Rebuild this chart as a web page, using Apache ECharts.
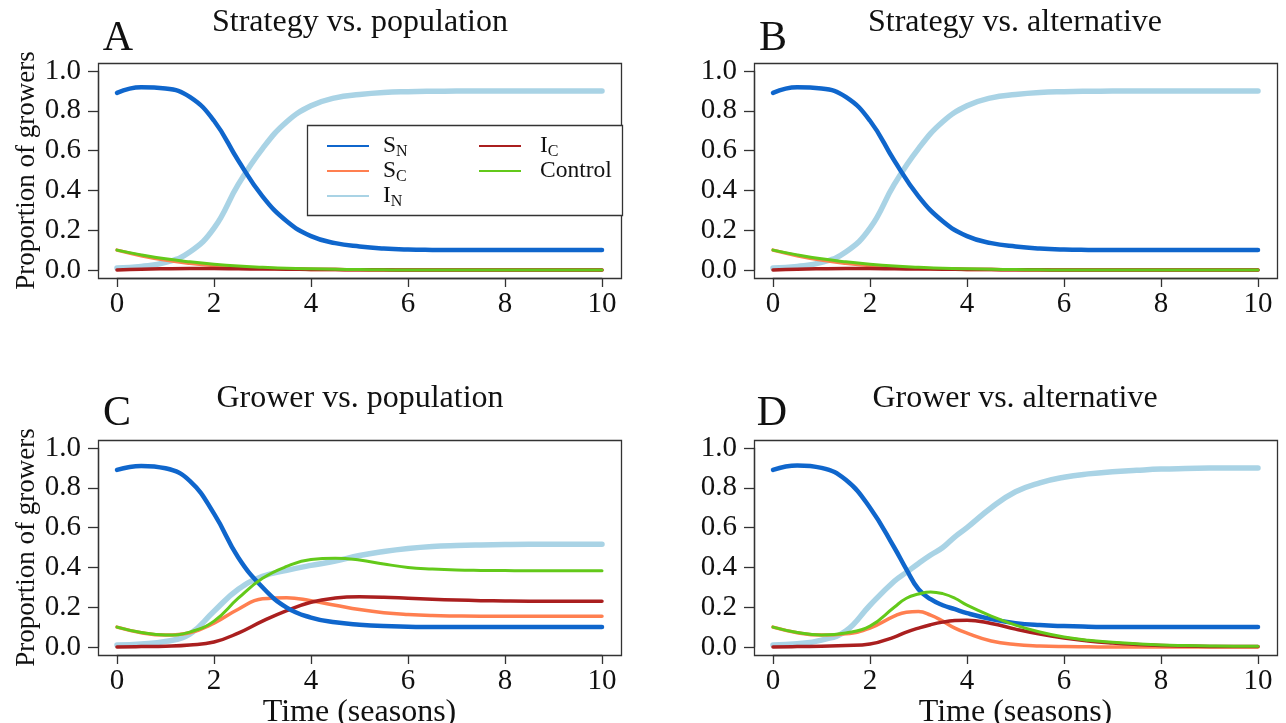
<!DOCTYPE html>
<html>
<head>
<meta charset="utf-8">
<script src="https://cdn.jsdelivr.net/npm/echarts@6/dist/echarts.min.js"></script>
<style>
html,body{margin:0;padding:0;background:#fff;}
#c{width:1286px;height:723px;}
</style>
</head>
<body>
<div id="c"></div>
<script>
// ---- data ----
var T = [0,0.5,1,1.5,2,2.5,3,3.5,4,4.5,5,5.5,6,6.5,7,7.5,8,8.5,9,9.5,10];
var T_D = [0,0.5,1,1.5,2,2.5,2.75,3,3.25,3.5,3.75,4,4.5,5,5.5,6,6.5,7,7.5,8,8.5,9,9.5,10];
var seriesNames = ['S_N','S_C','I_N','I_C','Control'];
var panelTitles = ['Strategy vs. population','Strategy vs. alternative','Grower vs. population','Grower vs. alternative'];
var panelLetters = ['A','B','C','D'];
var xName = 'Time (seasons)';
var yName = 'Proportion of growers';

// Panel A
var A_SN = [0.89,0.918,0.912,0.87,0.75,0.55,0.37,0.245,0.17,0.135,0.118,0.108,0.103,0.101,0.1,0.1,0.1,0.1,0.1,0.1,0.1];
var A_SC = [0.1,0.072,0.05,0.034,0.022,0.014,0.009,0.005,0.003,0.002,0.001,0,0,0,0,0,0,0,0,0,0];
var A_IN = [0.01,0.018,0.038,0.09,0.21,0.43,0.61,0.745,0.825,0.865,0.882,0.892,0.896,0.898,0.899,0.9,0.9,0.9,0.9,0.9,0.9];
var A_IC = [0,0.004,0.006,0.007,0.007,0.006,0.005,0.004,0.003,0.002,0.001,0.001,0,0,0,0,0,0,0,0,0];
var A_CT = [0.1,0.076,0.056,0.041,0.029,0.02,0.014,0.009,0.006,0.004,0.002,0.001,0,0,0,0,0,0,0,0,0];
// Panel B
var B_SN = [0.89,0.918,0.912,0.87,0.75,0.55,0.37,0.245,0.17,0.135,0.118,0.108,0.103,0.101,0.1,0.1,0.1,0.1,0.1,0.1,0.1];
var B_SC = [0.1,0.072,0.05,0.034,0.022,0.014,0.009,0.005,0.003,0.002,0.001,0,0,0,0,0,0,0,0,0,0];
var B_IN = [0.01,0.018,0.038,0.09,0.21,0.43,0.61,0.745,0.825,0.865,0.882,0.892,0.896,0.898,0.899,0.9,0.9,0.9,0.9,0.9,0.9];
var B_IC = [0,0.004,0.006,0.007,0.007,0.006,0.005,0.004,0.003,0.002,0.001,0.001,0,0,0,0,0,0,0,0,0];
var B_CT = [0.1,0.076,0.056,0.041,0.029,0.02,0.014,0.009,0.006,0.004,0.002,0.001,0,0,0,0,0,0,0,0,0];
// Panel C
var C_SN = [0.89,0.91,0.898,0.835,0.67,0.45,0.30,0.198,0.148,0.124,0.112,0.105,0.102,0.1,0.1,0.1,0.1,0.1,0.1,0.1,0.1];
var C_SC = [0.1,0.072,0.06,0.072,0.12,0.19,0.242,0.248,0.232,0.21,0.188,0.172,0.163,0.158,0.156,0.155,0.155,0.155,0.155,0.155,0.155];
var C_IN = [0.01,0.015,0.028,0.065,0.18,0.29,0.355,0.385,0.41,0.432,0.46,0.48,0.495,0.505,0.51,0.513,0.515,0.516,0.516,0.516,0.516];
var C_IC = [0,0.002,0.004,0.01,0.025,0.07,0.13,0.183,0.225,0.246,0.252,0.25,0.245,0.24,0.236,0.233,0.231,0.23,0.23,0.23,0.23];
var C_CT = [0.1,0.073,0.06,0.075,0.13,0.245,0.345,0.405,0.44,0.446,0.437,0.417,0.4,0.392,0.387,0.385,0.384,0.383,0.383,0.383,0.383];
// Panel D (extra readings around the peaks)
var D_SN = [0.89,0.912,0.9,0.84,0.70,0.50,0.39,0.29,0.24,0.21,0.19,0.17,0.14,0.12,0.11,0.105,0.102,0.1,0.1,0.1,0.1,0.1,0.1,0.1];
var D_SC = [0.1,0.072,0.06,0.066,0.095,0.155,0.175,0.178,0.16,0.13,0.095,0.07,0.03,0.012,0.005,0.002,0.001,0,0,0,0,0,0,0];
var D_IN = [0.01,0.016,0.035,0.08,0.21,0.33,0.375,0.42,0.462,0.50,0.554,0.60,0.70,0.78,0.825,0.853,0.87,0.881,0.888,0.894,0.897,0.899,0.9,0.9];
var D_IC = [0,0.002,0.004,0.007,0.015,0.05,0.075,0.095,0.112,0.125,0.133,0.135,0.118,0.09,0.065,0.045,0.03,0.02,0.013,0.008,0.005,0.003,0.002,0.002];
var D_CT = [0.1,0.073,0.06,0.07,0.105,0.2,0.245,0.266,0.277,0.268,0.245,0.21,0.155,0.11,0.075,0.05,0.034,0.024,0.016,0.01,0.007,0.005,0.004,0.004];

var panels = [
  {t:T,   SN:A_SN, SC:A_SC, IN:A_IN, IC:A_IC, CT:A_CT},
  {t:T,   SN:B_SN, SC:B_SC, IN:B_IN, IC:B_IC, CT:B_CT},
  {t:T,   SN:C_SN, SC:C_SC, IN:C_IN, IC:C_IC, CT:C_CT},
  {t:T_D, SN:D_SN, SC:D_SC, IN:D_IN, IC:D_IC, CT:D_CT}
];

// ---- styling ----
var FONT = '"Liberation Serif", "Times New Roman", serif';
var colors = {S_N:'#0f66cc', S_C:'#ff7f50', I_N:'#a9d3e5', I_C:'#aa1f1f', Control:'#63c91a'};
var widths = {S_N:4.5, S_C:3.5, I_N:5.5, I_C:3.5, Control:3};
var keyOf = {S_N:'SN', S_C:'SC', I_N:'IN', I_C:'IC', Control:'CT'};
var drawOrder = ['I_N','S_C','I_C','S_N','Control'];

// data area (0..10, 0..1) and the surrounding plot box (R style 4% padding)
var gridPos = [
  {left:117, top:71},
  {left:773, top:71},
  {left:117, top:448},
  {left:773, top:448}
];
var GW = 485, GH = 199;
var PADX = 19, PADY = 8;

var grids = [], xAxes = [], yAxes = [], series = [];
var graphics = [];
gridPos.forEach(function(g, i){
  grids.push({left:g.left, top:g.top, width:GW, height:GH, show:false,
    containLabel:false, outerBoundsMode:'none'});
  graphics.push({type:'rect', z:1,
    shape:{x:g.left - PADX + 0.5, y:g.top - PADY + 0.5, width:GW + 2*PADX, height:GH + 2*PADY},
    style:{fill:'none', stroke:'#333', lineWidth:1.3}});
  xAxes.push({type:'value', gridIndex:i, min:0, max:10, interval:2, offset:PADY,
    axisLine:{show:true, onZero:false, lineStyle:{color:'#333', width:1.3}}, splitLine:{show:false},
    axisTick:{show:true, inside:false, length:9, lineStyle:{color:'#333', width:1.3}},
    axisLabel:{fontFamily:FONT, fontSize:29, color:'#111', margin:12,
      formatter:function(v){return String(v);}},
    name: i>=2 ? xName : '', nameLocation:'middle', nameGap:42, nameMoveOverlap:false,
    nameTextStyle:{fontFamily:FONT, fontSize:32, color:'#111'}
  });
  yAxes.push({type:'value', gridIndex:i, min:0, max:1, interval:0.2, offset:PADX,
    axisLine:{show:true, onZero:false, lineStyle:{color:'#333', width:1.3}}, splitLine:{show:false},
    axisTick:{show:true, inside:false, length:10, lineStyle:{color:'#333', width:1.3}},
    axisLabel:{fontFamily:FONT, fontSize:29, color:'#111', margin:17,
      formatter:function(v){return v.toFixed(1);}},
    name: (i===0||i===2) ? yName : '', nameLocation:'middle', nameGap:57, nameRotate:90,
    nameTextStyle:{fontFamily:FONT, fontSize:27, color:'#111'}
  });
  var p = panels[i];
  drawOrder.forEach(function(nm, k){
    var arr = p[keyOf[nm]];
    series.push({
      type:'line', name:nm, xAxisIndex:i, yAxisIndex:i,
      data: p.t.map(function(t, j){return [t, arr[j]];}),
      showSymbol:false, symbol:'none', smooth:0.45, clip:false,
      lineStyle:{color:colors[nm], width:widths[nm], cap:'round', join:'round'},
      itemStyle:{color:colors[nm]},
      z: 2 + k, animation:false, silent:true
    });
  });
});

var rich = {
  m:{fontFamily:FONT, fontSize:23.5, color:'#111', lineHeight:20},
  s:{fontFamily:FONT, fontSize:16, color:'#111', lineHeight:2, verticalAlign:'top', padding:[8,0,0,0]}
};
function legendFmt(name){
  if (name === 'Control') return '{m|Control}';
  var parts = name.split('_');
  return '{m|' + parts[0] + '}{s|' + parts[1] + '}';
}
function mkLegend(data, left, padLeft){
  return {
    data: data, left:left, top:134, orient:'vertical', padding:0,
    itemWidth:42, itemHeight:14, itemGap:-1, selectedMode:false,
    icon:'path://M0,6 L42,6 L42,8 L0,8 Z',
    lineStyle:{width:3}, z:10,
    formatter: legendFmt,
    textStyle:{fontFamily:FONT, fontSize:23.5, color:'#111', rich:rich, padding:[0,0,0,padLeft], lineHeight:20}
  };
}

graphics.push({type:'rect', shape:{x:307.5, y:125.5, width:315, height:90},
   style:{fill:'#fff', stroke:'#333', lineWidth:1.3}, z:5});
var titleXY = [[360,23],[1015,23],[360,399],[1015,399]];
var letterXY = [[118,39],[773,39],[117,414],[772,414]];
panelTitles.forEach(function(t, i){
  graphics.push({type:'text', x:titleXY[i][0], y:titleXY[i][1], z:20,
    style:{text:t, font:'32px ' + FONT, fill:'#111', align:'center', verticalAlign:'middle',
      textAlign:'center', textVerticalAlign:'middle'}});
  graphics.push({type:'text', x:letterXY[i][0], y:letterXY[i][1], z:20,
    style:{text:panelLetters[i], font:'42px ' + FONT, fill:'#111', align:'center', verticalAlign:'middle',
      textAlign:'center', textVerticalAlign:'middle'}});
});

var chart = echarts.init(document.getElementById('c'), null, {renderer:'canvas'});
chart.setOption({
  animation:false,
  backgroundColor:'#fff',
  grid: grids, xAxis: xAxes, yAxis: yAxes, series: series,
  legend: [mkLegend(['S_N','S_C','I_N'], 327, 9), mkLegend(['I_C','Control'], 479, 14)],
  graphic: graphics
});
</script>
</body>
</html>
